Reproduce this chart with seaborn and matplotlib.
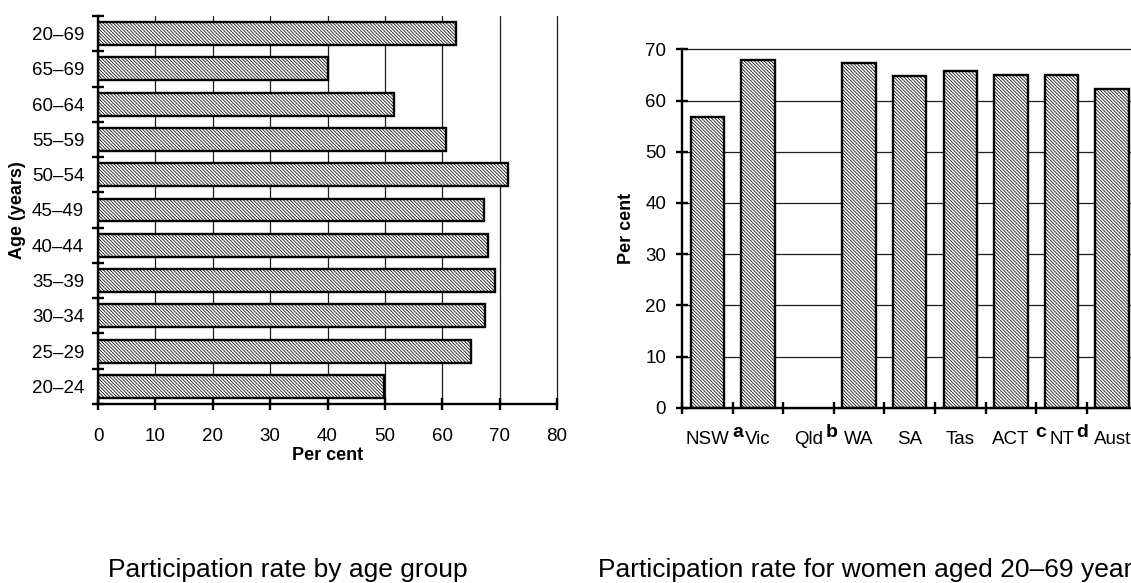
import matplotlib
matplotlib.use("Agg")
import matplotlib.pyplot as plt
import seaborn as sns
import numpy as np
import pandas as pd

# ---- data ----
age_groups = ["20–69", "65–69", "60–64", "55–59", "50–54", "45–49",
              "40–44", "35–39", "30–34", "25–29", "20–24"]
age_rates = [62.4, 40.1, 51.6, 60.7, 71.5, 67.3, 68.0, 69.2, 67.5, 65.0, 49.8]

states = ["NSW", "Vic", "Qld", "WA", "SA", "Tas", "ACT", "NT", "Aust"]
state_rates = [56.7, 67.9, np.nan, 67.4, 64.8, 65.8, 65.0, 65.0, 62.3]
footnotes = [("a", 0.61), ("b", 2.46), ("c", 6.59), ("d", 7.40)]

left_caption = "Participation rate by age group"
right_caption = "Participation rate for women aged 20–69 years"

sns.set_style("white")
plt.rcParams["font.family"] = ["Liberation Sans", "DejaVu Sans"]
plt.rcParams["hatch.linewidth"] = 0.55
for key in ["text.color", "axes.labelcolor", "xtick.color", "ytick.color",
            "xtick.labelcolor", "ytick.labelcolor"]:
    plt.rcParams[key] = "black"

fig = plt.figure(figsize=(11.31, 5.83), dpi=100)

HATCH = "\\" * 10
GRID_C = "#1e1e1e"
TICK_FS = 13.5

# ---- left chart ----
axL = fig.add_axes([98 / 1131, 1 - 404 / 583, 459 / 1131, 388 / 583])
dfL = pd.DataFrame({"age": age_groups, "rate": age_rates})
sns.barplot(data=dfL, y="age", x="rate", order=age_groups, orient="h",
            color="white", width=0.65, ax=axL, zorder=2)
for p in axL.patches:
    p.set_hatch(HATCH)
    p.set_edgecolor("black")
    p.set_linewidth(1.7)
    p.set_facecolor("white")
axL.set_xlim(0, 80)
axL.set_ylim(len(age_groups) - 0.5, -0.5)
axL.set_xticks(np.arange(0, 81, 10))
axL.set_axisbelow(True)
axL.xaxis.grid(True, color=GRID_C, lw=0.9)
for gl in axL.get_xgridlines():
    gl.set_clip_on(False)
axL.yaxis.grid(False)
for s in ["top", "right"]:
    axL.spines[s].set_visible(False)
for s in ["left", "bottom"]:
    axL.spines[s].set_linewidth(1.7)
    axL.spines[s].set_color("black")
axL.set_yticks(np.arange(-0.5, len(age_groups), 1.0), minor=True)
axL.tick_params(axis="y", which="major", length=0, pad=10, labelsize=TICK_FS)
axL.tick_params(axis="y", which="minor", direction="inout", length=9, width=1.7, color="black", left=True)
axL.tick_params(axis="x", which="major", direction="inout", length=9, width=1.7, color="black",
                bottom=True, pad=13, labelsize=TICK_FS)
axL.set_xlabel("Per cent", fontsize=13, fontweight="bold", labelpad=1)
axL.set_ylabel("Age (years)", fontsize=13, fontweight="bold")
axL.yaxis.set_label_coords(-72 / 459, 0.5)

# ---- right chart ----
axR = fig.add_axes([682 / 1131, 1 - 407.7 / 583, 455.4 / 1131, 358.4 / 583])
dfR = pd.DataFrame({"state": states, "rate": state_rates})
sns.barplot(data=dfR, x="state", y="rate", order=states, color="white",
            width=0.66, ax=axR, zorder=2)
for p in axR.patches:
    p.set_hatch(HATCH)
    p.set_edgecolor("black")
    p.set_linewidth(1.7)
    p.set_facecolor("white")
axR.set_ylim(0, 70)
axR.set_xlim(-0.5, len(states) - 0.5)
axR.set_yticks(np.arange(0, 71, 10))
axR.set_axisbelow(True)
axR.yaxis.grid(True, color=GRID_C, lw=0.9)
for gl in axR.get_ygridlines():
    gl.set_clip_on(False)
axR.xaxis.grid(False)
for s in ["top", "right"]:
    axR.spines[s].set_visible(False)
for s in ["left", "bottom"]:
    axR.spines[s].set_linewidth(1.7)
    axR.spines[s].set_color("black")
axR.set_xticks(np.arange(-0.5, len(states), 1.0), minor=True)
axR.tick_params(axis="x", which="major", length=0, pad=17, labelsize=TICK_FS)
axR.tick_params(axis="x", which="minor", direction="inout", length=9, width=1.7, color="black", bottom=True)
axR.tick_params(axis="y", which="major", direction="inout", length=9, width=1.7, color="black",
                left=True, pad=7, labelsize=TICK_FS)
axR.set_xlabel("")
axR.set_ylabel("Per cent", fontsize=13, fontweight="bold")
axR.yaxis.set_label_coords(-47 / 455.4, 0.5)
for letter, xpos in footnotes:
    axR.text(xpos, -0.07, letter, transform=axR.get_xaxis_transform(),
             ha="center", va="center", fontsize=14, fontweight="bold", clip_on=False)

# ---- captions ----
fig.text(108 / 1131, 1 - 577 / 583, left_caption, fontsize=19, ha="left", va="baseline")
fig.text(598 / 1131, 1 - 577 / 583, right_caption, fontsize=19, ha="left", va="baseline")

fig.savefig("out.png", dpi=100)
